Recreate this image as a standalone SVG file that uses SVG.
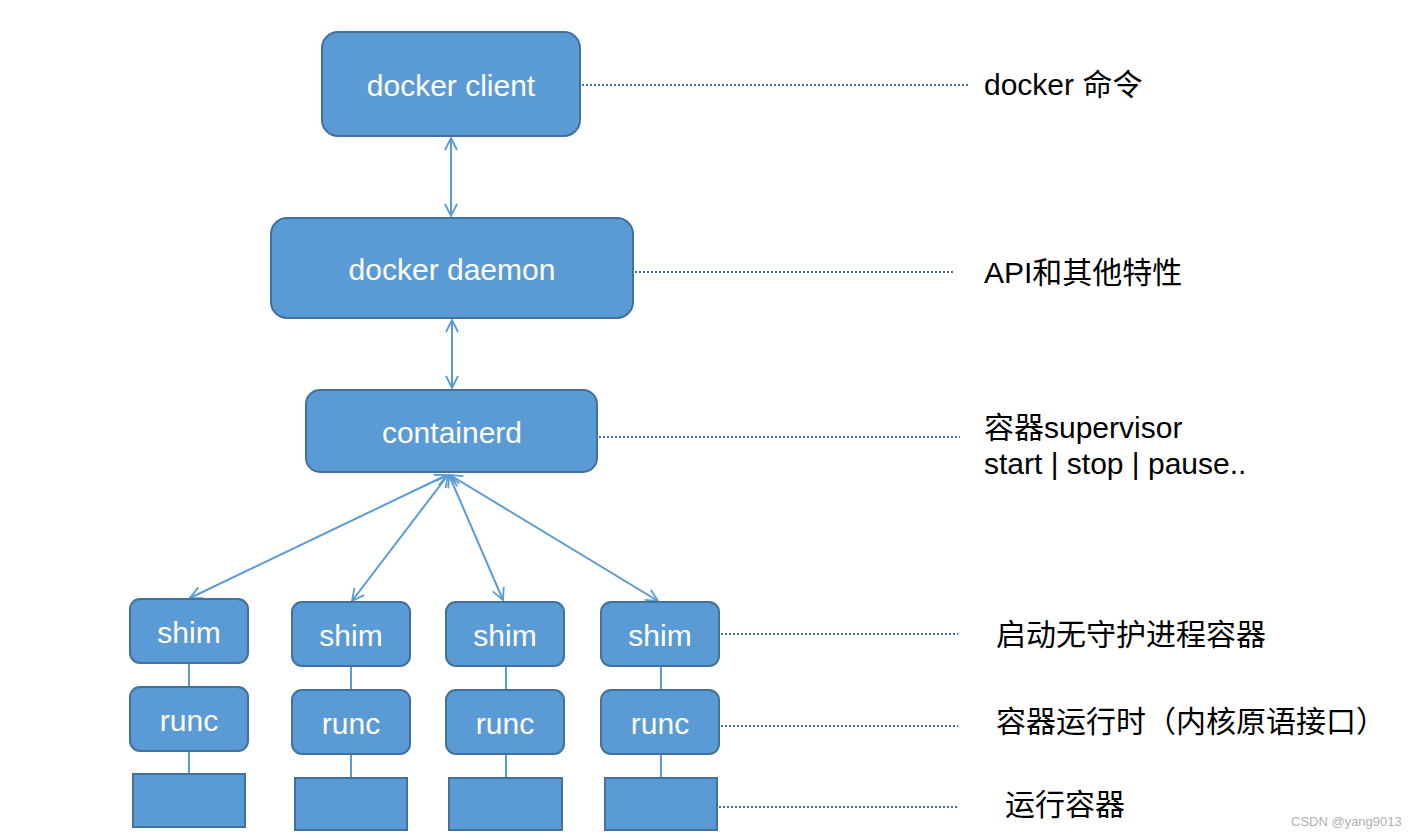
<svg xmlns="http://www.w3.org/2000/svg" width="1418" height="838" viewBox="0 0 1418 838">
<defs>
<style>
.node{fill:#5B9BD5;stroke:#41719C;stroke-width:2}
.lbl{fill:#FFFFFF;font-family:"Liberation Sans",Arial,sans-serif;font-size:30px;text-anchor:middle}
.conn{stroke:#5B9BD5;stroke-width:2;fill:none}
.dot{stroke:#41719C;stroke-width:2;stroke-dasharray:2 2;fill:none}
.note{fill:#000000;font-family:"Liberation Sans","Noto Sans CJK SC",sans-serif;font-size:30px}
.wm{fill:#B0B0B0;font-family:"Liberation Sans",Arial,sans-serif;font-size:13px}
</style>
<marker id="arr" viewBox="0 0 14 14" refX="13" refY="7" markerWidth="14" markerHeight="14" markerUnits="userSpaceOnUse" orient="auto-start-reverse">
<path d="M1,1 L13,7 L1,13" fill="none" stroke="#5B9BD5" stroke-width="1.8"/>
</marker>
</defs>
<rect width="1418" height="838" fill="#FFFFFF"/>
<g id="connectors">
<line class="conn" x1="451" y1="138" x2="451" y2="216" marker-start="url(#arr)" marker-end="url(#arr)"/>
<line class="conn" x1="452" y1="320" x2="452" y2="388" marker-start="url(#arr)" marker-end="url(#arr)"/>
<line class="conn" x1="447" y1="475" x2="190" y2="598" marker-start="url(#arr)" marker-end="url(#arr)"/>
<line class="conn" x1="448" y1="475" x2="352" y2="601" marker-start="url(#arr)" marker-end="url(#arr)"/>
<line class="conn" x1="449" y1="475" x2="503" y2="600" marker-start="url(#arr)" marker-end="url(#arr)"/>
<line class="conn" x1="450" y1="475" x2="658" y2="601" marker-start="url(#arr)" marker-end="url(#arr)"/>
<line class="conn" x1="189" y1="664" x2="189" y2="686"/>
<line class="conn" x1="189" y1="752" x2="189" y2="773"/>
<line class="conn" x1="351" y1="667" x2="351" y2="689"/>
<line class="conn" x1="351" y1="755" x2="351" y2="777"/>
<line class="conn" x1="506" y1="667" x2="506" y2="689"/>
<line class="conn" x1="506" y1="755" x2="506" y2="777"/>
<line class="conn" x1="661" y1="667" x2="661" y2="689"/>
<line class="conn" x1="661" y1="755" x2="661" y2="777"/>
<line class="dot" x1="582" y1="85" x2="970" y2="85"/>
<line class="dot" x1="635" y1="272" x2="955" y2="272"/>
<line class="dot" x1="599" y1="437" x2="960" y2="437"/>
<line class="dot" x1="721" y1="634" x2="958" y2="634"/>
<line class="dot" x1="721" y1="726" x2="958" y2="726"/>
<line class="dot" x1="719" y1="807" x2="958" y2="807"/>
</g>
<g id="docker-client">
<rect class="node" x="322" y="32" width="258" height="104" rx="16"/>
<text class="lbl" x="451" y="96">docker client</text>
</g>
<g id="docker-daemon">
<rect class="node" x="271" y="218" width="362" height="100" rx="16"/>
<text class="lbl" x="452" y="280">docker daemon</text>
</g>
<g id="containerd">
<rect class="node" x="306" y="390" width="291" height="82" rx="14"/>
<text class="lbl" x="452" y="443">containerd</text>
</g>
<g id="shim1"><rect class="node" x="130" y="599" width="118" height="64" rx="10"/><text class="lbl" x="189" y="643">shim</text></g>
<g id="shim2"><rect class="node" x="292" y="602" width="118" height="64" rx="10"/><text class="lbl" x="351" y="646">shim</text></g>
<g id="shim3"><rect class="node" x="446" y="602" width="118" height="64" rx="10"/><text class="lbl" x="505" y="646">shim</text></g>
<g id="shim4"><rect class="node" x="601" y="602" width="118" height="64" rx="10"/><text class="lbl" x="660" y="646">shim</text></g>
<g id="runc1"><rect class="node" x="130" y="687" width="118" height="64" rx="10"/><text class="lbl" x="189" y="731">runc</text></g>
<g id="runc2"><rect class="node" x="292" y="690" width="118" height="64" rx="10"/><text class="lbl" x="351" y="734">runc</text></g>
<g id="runc3"><rect class="node" x="446" y="690" width="118" height="64" rx="10"/><text class="lbl" x="505" y="734">runc</text></g>
<g id="runc4"><rect class="node" x="601" y="690" width="118" height="64" rx="10"/><text class="lbl" x="660" y="734">runc</text></g>
<g id="container1"><rect class="node" x="133" y="774" width="112" height="53"/></g>
<g id="container2"><rect class="node" x="295" y="778" width="112" height="52"/></g>
<g id="container3"><rect class="node" x="449" y="778" width="113" height="52"/></g>
<g id="container4"><rect class="node" x="605" y="778" width="112" height="52"/></g>
<g id="notes">
<text class="note" x="984" y="95">docker 命令</text>
<text class="note" x="984" y="283">API和其他特性</text>
<text class="note" x="984" y="438">容器supervisor</text>
<text class="note" x="984" y="474">start | stop | pause..</text>
<text class="note" x="996" y="645">启动无守护进程容器</text>
<text class="note" x="996" y="732">容器运行时（内核原语接口）</text>
<text class="note" x="1005" y="815">运行容器</text>
<text class="wm" x="1291" y="826">CSDN @yang9013</text>
</g>
</svg>
